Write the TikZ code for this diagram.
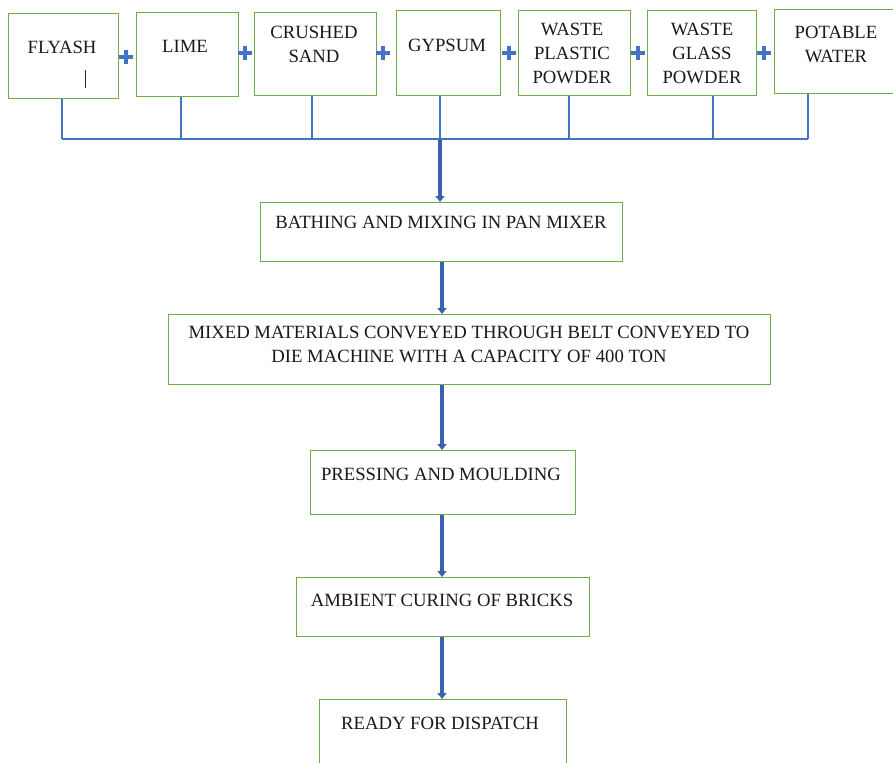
\documentclass[tikz,border=0pt]{standalone}
\usepackage{fontspec}
\setmainfont{Liberation Serif}
\usetikzlibrary{arrows.meta,calc}
\definecolor{boxgreen}{HTML}{70AD47}
\definecolor{lineblue}{HTML}{4472C4}
\definecolor{arrowblue}{HTML}{3B62AE}
\begin{document}
\begin{tikzpicture}[x=1pt,y=-1pt,
  box/.style={draw=boxgreen, line width=1.4pt, anchor=north west, inner sep=0pt},
  lbl/.style={font=\fontsize{18.7}{24}\selectfont, align=center, inner sep=0pt, anchor=north, text=black!90},
  feed/.style={draw=lineblue, line width=1.3pt},
  flow/.style={draw=arrowblue, line width=3.5pt, -{Triangle[width=9pt,length=6pt]}},
  plussign/.style={draw=lineblue, line width=4.5pt}]
\useasboundingbox (0,0) rectangle (893,762);
% top boxes
\node[box, minimum width=110pt, minimum height=85pt] (fly) at (8,13) {};
\node[box, minimum width=102pt, minimum height=84pt] (lime) at (136,12) {};
\node[box, minimum width=122pt, minimum height=83pt] (sand) at (254,12) {};
\node[box, minimum width=104pt, minimum height=85pt] (gyp) at (396,10) {};
\node[box, minimum width=112pt, minimum height=85pt] (plast) at (518,10) {};
\node[box, minimum width=109pt, minimum height=85pt] (glass) at (647,10) {};
\node[box, minimum width=122pt, minimum height=84pt] (water) at (774,9) {};
% labels
\node[lbl] (flyt) at (62,41) {FLYASH};
\draw[line width=1pt, black!85] (85,70) -- (85,88);
\node[lbl] (limet) at (185,40) {LIME};
\node[lbl] (sandt) at (314,26) {CRUSHED\\SAND};
\node[lbl] (gypt) at (447,39) {GYPSUM};
\node[lbl] (plastt) at (572,23) {WASTE\\PLASTIC\\POWDER};
\node[lbl] (glasst) at (702,23) {WASTE\\GLASS\\POWDER};
\node[lbl] (watert) at (836,26) {POTABLE\\WATER};
% plus signs
\foreach \px/\py [count=\i] in {126/57,245/53,383/53,509/53,638/53,764/53}{
  \coordinate (p\i) at (\px,\py);
  \draw[plussign] ($(p\i)+(-7,0)$) -- ($(p\i)+(7,0)$);
  \draw[plussign] ($(p\i)+(0,-7)$) -- ($(p\i)+(0,7)$);
}
% bus
\coordinate (b1) at (62,139);
\coordinate (b2) at (181,139);
\coordinate (b3) at (312,139);
\coordinate (hub) at (440,139);
\coordinate (b5) at (569,139);
\coordinate (b6) at (713,139);
\coordinate (b7) at (808,139);
\draw[feed] (fly.south -| b1) -- (b1);
\draw[feed] (lime.south -| b2) -- (b2);
\draw[feed] (sand.south -| b3) -- (b3);
\draw[feed] (gyp.south -| hub) -- (hub);
\draw[feed] (plast.south -| b5) -- (b5);
\draw[feed] (glass.south -| b6) -- (b6);
\draw[feed] (water.south -| b7) -- (b7);
\draw[feed] (b1) -- (b7);
% process boxes
\node[box, minimum width=362pt, minimum height=59pt] (bath) at (260,202) {};
\node[lbl] (batht) at (441,216) {BATHING AND MIXING IN PAN MIXER};
\node[box, minimum width=602pt, minimum height=70pt] (mixed) at (168,314) {};
\node[lbl] (mixedt) at (469,326) {MIXED MATERIALS CONVEYED THROUGH BELT CONVEYED TO\\DIE MACHINE WITH A CAPACITY OF 400 TON};
\node[box, minimum width=265pt, minimum height=64pt] (press) at (310,450) {};
\node[lbl] (presst) at (441,468) {PRESSING AND MOULDING};
\node[box, minimum width=293pt, minimum height=59pt] (amb) at (296,577) {};
\node[lbl] (ambt) at (442,594) {AMBIENT CURING OF BRICKS};
\node[box, minimum width=247pt, minimum height=80pt] (ready) at (319,699) {};
\node[lbl] (readyt) at (440,717) {READY FOR DISPATCH};
% arrows
\coordinate (ax) at (442,0);
\draw[flow] (hub) -- (bath.north -| hub);
\draw[flow] (bath.south -| ax) -- (mixed.north -| ax);
\draw[flow] (mixed.south -| ax) -- (press.north -| ax);
\draw[flow] (press.south -| ax) -- (amb.north -| ax);
\draw[flow] (amb.south -| ax) -- (ready.north -| ax);
\end{tikzpicture}
\end{document}
